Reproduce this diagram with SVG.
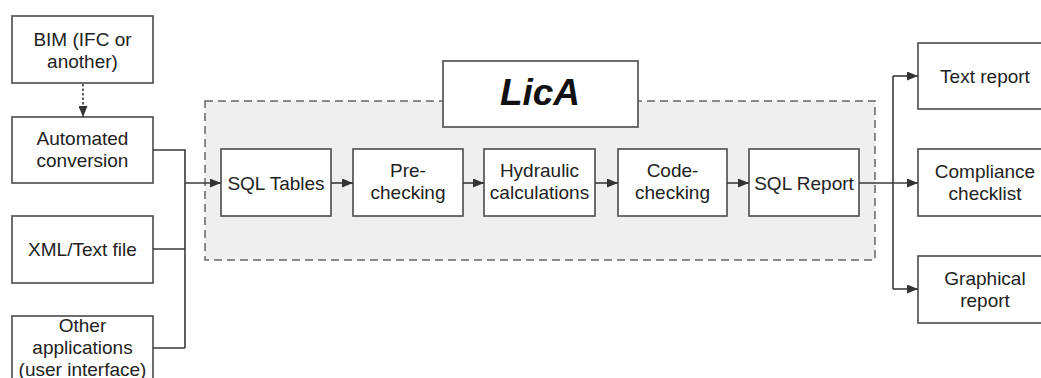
<svg xmlns="http://www.w3.org/2000/svg" width="1041" height="378" viewBox="0 0 1041 378">
  <defs>
    <marker id="arrow" viewBox="0 0 11 9" refX="11" refY="4.5" markerWidth="11" markerHeight="9" markerUnits="userSpaceOnUse" orient="auto">
      <path d="M0,0 L11,4.5 L0,9 Z" fill="#333"/>
    </marker>
    <style>
      .box { fill: #ffffff; stroke: #555; stroke-width: 1.7; }
      .lbl { font-family: "Liberation Sans", Arial, sans-serif; font-size: 19px; fill: #222; text-anchor: middle; }
      .wire { fill: none; stroke: #3a3a3a; stroke-width: 1.6; }
      .arr { marker-end: url(#arrow); }
    </style>
  </defs>
  <rect width="1041" height="378" fill="#ffffff"/>

  <!-- LicA container -->
  <g id="lica-frame">
    <rect x="205" y="101" width="670" height="159" fill="#efefef" stroke="#666" stroke-width="1.5" stroke-dasharray="8 5"/>
  </g>
  <g id="lica-title">
    <rect class="box" x="443" y="61" width="195" height="66"/>
    <text x="540" y="105" font-family="'Liberation Sans', Arial, sans-serif" font-size="37" font-weight="bold" font-style="italic" fill="#111" text-anchor="middle">LicA</text>
  </g>

  <!-- Inputs -->
  <g id="bim">
    <rect class="box" x="12" y="16" width="141" height="67"/>
    <text class="lbl" x="82.5" y="46">BIM (IFC or</text>
    <text class="lbl" x="82.5" y="68">another)</text>
  </g>
  <g id="automated-conversion">
    <rect class="box" x="12" y="117" width="141" height="66"/>
    <text class="lbl" x="82.5" y="144.5">Automated</text>
    <text class="lbl" x="82.5" y="166.5">conversion</text>
  </g>
  <g id="xml-text-file">
    <rect class="box" x="12" y="216" width="141" height="67"/>
    <text class="lbl" x="82.5" y="256">XML/Text file</text>
  </g>
  <g id="other-applications">
    <rect class="box" x="12" y="316" width="141" height="80"/>
    <text class="lbl" x="82.5" y="332">Other</text>
    <text class="lbl" x="82.5" y="354">applications</text>
    <text class="lbl" x="82.5" y="376">(user interface)</text>
  </g>

  <!-- Processing chain -->
  <g id="sql-tables">
    <rect class="box" x="221" y="149" width="110" height="67"/>
    <text class="lbl" x="276" y="189.5">SQL Tables</text>
  </g>
  <g id="pre-checking">
    <rect class="box" x="353" y="149" width="110" height="67"/>
    <text class="lbl" x="408" y="177">Pre-</text>
    <text class="lbl" x="408" y="199">checking</text>
  </g>
  <g id="hydraulic-calculations">
    <rect class="box" x="484" y="149" width="111" height="67"/>
    <text class="lbl" x="539.5" y="177">Hydraulic</text>
    <text class="lbl" x="539.5" y="199">calculations</text>
  </g>
  <g id="code-checking">
    <rect class="box" x="618" y="149" width="109" height="67"/>
    <text class="lbl" x="672.5" y="177">Code-</text>
    <text class="lbl" x="672.5" y="199">checking</text>
  </g>
  <g id="sql-report">
    <rect class="box" x="749" y="149" width="110" height="67"/>
    <text class="lbl" x="804" y="189.5">SQL Report</text>
  </g>

  <!-- Outputs -->
  <g id="text-report">
    <rect class="box" x="918" y="43" width="140" height="66"/>
    <text class="lbl" x="985" y="82.5">Text report</text>
  </g>
  <g id="compliance-checklist">
    <rect class="box" x="918" y="149" width="140" height="67"/>
    <text class="lbl" x="985" y="178">Compliance</text>
    <text class="lbl" x="985" y="200">checklist</text>
  </g>
  <g id="graphical-report">
    <rect class="box" x="918" y="256" width="140" height="67"/>
    <text class="lbl" x="985" y="285">Graphical</text>
    <text class="lbl" x="985" y="307">report</text>
  </g>

  <!-- Connectors -->
  <g id="connectors">
    <path class="wire arr" d="M83,84 V117" stroke-dasharray="2.5 2"/>
    <path class="wire" d="M153,150 H185 V348 M153,249 H185 M153,348 H185"/>
    <path class="wire arr" d="M185,183 H221"/>
    <path class="wire arr" d="M331,183 H353"/>
    <path class="wire arr" d="M463,183 H484"/>
    <path class="wire arr" d="M595,183 H618"/>
    <path class="wire arr" d="M727,183 H749"/>
    <path class="wire arr" d="M859,183 H918"/>
    <path class="wire" d="M893,76 V289"/>
    <path class="wire arr" d="M893,76 H918"/>
    <path class="wire arr" d="M893,289 H918"/>
  </g>
</svg>
